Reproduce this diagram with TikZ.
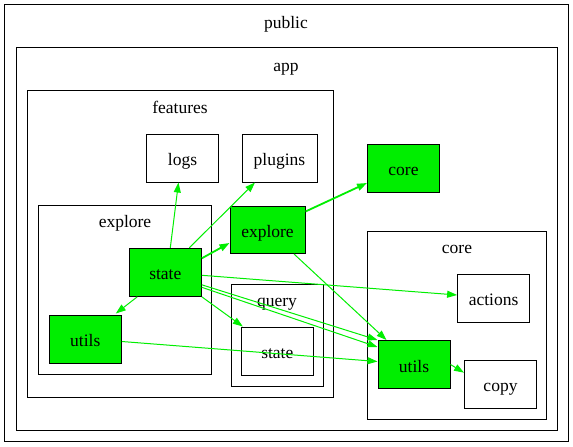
\documentclass[tikz,border=0pt]{standalone}
\usepackage{fontspec}
\setmainfont{Liberation Serif}
\usetikzlibrary{arrows.meta,fit}
\definecolor{gvgreen}{HTML}{00EE00}
\tikzset{
  x=1pt, y=-1pt,
  clusterbox/.style={draw=black, line width=1pt, inner sep=0pt},
  clabel/.style={font=\fontsize{17.5}{20}\selectfont, inner sep=0pt, anchor=base},
  box/.style={draw=black, line width=1pt, minimum width=72pt, minimum height=48pt, inner sep=0pt, text height=15pt, text depth=0pt, font=\fontsize{17.5}{20}\selectfont},
  gbox/.style={box, fill=gvgreen},
  edge/.style={draw=gvgreen, line width=1pt, -{Triangle[length=10pt,width=7pt]}},
  thickedge/.style={edge, line width=1.8pt},
}
\begin{document}
\begin{tikzpicture}
\useasboundingbox (0,0) rectangle (573,447);
% clusters
\node[clusterbox, fit={(4.5,4.5) (568.5,441.5)}] (cpublic) {};
\node[clabel] (lpublic) at (286,28) {public};
\node[clusterbox, fit={(16.5,47.5) (557.5,430.5)}] (capp) {};
\node[clabel] (lapp) at (286,71.5) {app};
\node[clusterbox, fit={(27,90.5) (333.5,397)}] (cfeatures) {};
\node[clabel] (lfeatures) at (180,113.5) {features};
\node[clusterbox, fit={(38.5,205) (211.5,374)}] (cexplore) {};
\node[clabel] (lexplore) at (125,227.5) {explore};
\node[clusterbox, fit={(231,284) (323.5,386.5)}] (cquery) {};
\node[clabel] (lquery) at (277,306.5) {query};
\node[clusterbox, fit={(367.5,231) (546.5,419.5)}] (ccore) {};
\node[clabel] (lcore) at (457,253.5) {core};
% nodes
\node[box] (logs) at (182.5,158) {logs};
\node[box, minimum width=75pt] (plugins) at (279.5,158) {plugins};
\node[gbox] (core) at (403.5,168) {core};
\node[gbox, minimum width=75pt, minimum height=47pt] (explore) at (267.5,230) {explore};
\node[gbox] (state) at (165.3,272.3) {state};
\node[gbox] (uexp) at (85.3,339) {utils};
\node[box] (qstate) at (277.3,351) {state};
\node[box] (actions) at (493.6,298) {actions};
\node[gbox] (ucore) at (414,364.5) {utils};
\node[box] (copy) at (500.5,384.2) {copy};
% edges
\draw[edge] ([xshift=5pt]state.north) -- ([xshift=-4pt]logs.south);
\draw[edge] ([xshift=24pt]state.north) -- ([xshift=-24.5pt]plugins.south);
\draw[thickedge] ([yshift=14pt]state.east) -- ([yshift=-13pt]explore.west);
\draw[edge] ([xshift=-28pt]state.south) -- ([xshift=-6pt,yshift=1pt]uexp.north east);
\draw[edge] (state.south east) -- ([xshift=2pt]qstate.north west);
\draw[edge] ([yshift=-3pt]state.east) -- ([yshift=3pt]actions.west);
\draw[edge] ([yshift=-12.5pt]state.east) -- (ucore.north west);
\draw[edge] ([yshift=-15pt]state.east) -- ([yshift=17.5pt]ucore.west);
\draw[edge] ([yshift=-2.5pt]uexp.east) -- ([yshift=3pt]ucore.west);
\draw[thickedge] ([yshift=18.5pt]explore.east) -- ([yshift=-15pt]core.west);
\draw[edge] ([xshift=26.5pt]explore.south) -- ([xshift=9pt]ucore.north west);
\draw[edge] (ucore.east) -- ([yshift=11.5pt]copy.west);
\end{tikzpicture}
\end{document}
